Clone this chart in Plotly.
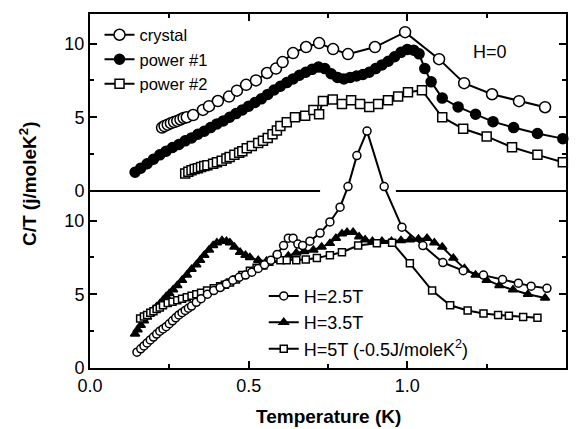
import plotly.graph_objects as go

# ---------------- data ----------------
# Top panel, H=0
crystal_T = [0.227, 0.235, 0.245, 0.255, 0.265, 0.275, 0.285, 0.295, 0.305, 0.325, 0.356, 0.375,
             0.403, 0.438, 0.463, 0.492, 0.523, 0.558, 0.586, 0.607, 0.64, 0.681, 0.722, 0.766,
             0.813, 0.898, 0.993, 1.10, 1.179, 1.267, 1.352, 1.434]
crystal_C = [4.3, 4.4, 4.5, 4.6, 4.68, 4.75, 4.85, 4.95, 5.0, 5.15, 5.5, 5.75,
             6.1, 6.4, 6.8, 7.2, 7.5, 8.0, 8.3, 8.74, 9.35, 9.76, 10.03, 9.62,
             9.28, 9.76, 10.77, 8.94, 7.31, 6.56, 6.09, 5.68]

power1_T = [0.142, 0.16, 0.18, 0.20, 0.22, 0.24, 0.26, 0.28, 0.30, 0.32, 0.34, 0.36, 0.38, 0.40,
            0.42, 0.44, 0.46, 0.48, 0.50, 0.52, 0.54, 0.56, 0.58, 0.60, 0.62, 0.64, 0.66, 0.68,
            0.70, 0.72, 0.74, 0.76, 0.78, 0.80, 0.82, 0.84, 0.86, 0.88, 0.90, 0.92, 0.94, 0.96,
            0.98, 1.00, 1.02, 1.037, 1.055, 1.075, 1.11, 1.16, 1.215, 1.27, 1.335, 1.41, 1.49]
power1_C = [1.27, 1.55, 1.85, 2.15, 2.45, 2.7, 2.95, 3.15, 3.4, 3.6, 3.85, 4.05, 4.3, 4.55,
            4.75, 5.0, 5.25, 5.5, 5.75, 6.0, 6.25, 6.55, 6.85, 7.1, 7.35, 7.6, 7.85, 8.05,
            8.25, 8.4, 8.3, 7.95, 7.7, 7.6, 7.7, 7.8, 7.9, 8.05, 8.3, 8.55, 8.8, 9.1,
            9.4, 9.6, 9.55, 9.3, 8.3, 7.4, 6.3, 5.7, 5.2, 4.7, 4.3, 3.9, 3.55]

power2_T = [0.30, 0.31, 0.32, 0.33, 0.34, 0.35, 0.36, 0.37, 0.388, 0.40, 0.415, 0.43, 0.44, 0.455,
            0.47, 0.48, 0.494, 0.51, 0.53, 0.545, 0.56, 0.575, 0.589, 0.60, 0.62, 0.646, 0.678,
            0.704, 0.722, 0.734, 0.765, 0.794, 0.823, 0.851, 0.88, 0.908, 0.939, 0.971, 1.002,
            1.046, 1.11, 1.176, 1.25, 1.33, 1.41, 1.49]
power2_C = [1.18, 1.3, 1.4, 1.5, 1.55, 1.62, 1.7, 1.75, 1.85, 1.95, 2.05, 2.2, 2.3, 2.45,
            2.6, 2.7, 2.9, 3.05, 3.25, 3.4, 3.6, 3.85, 4.1, 4.4, 4.66, 5.0, 5.1,
            5.5, 5.2, 6.1, 6.2, 5.9, 6.15, 5.9, 5.7, 5.9, 6.15, 6.4, 6.7,
            6.83, 5.0, 4.22, 3.7, 2.97, 2.45, 1.95]

# Bottom panel, in field
h25_T = [0.148, 0.16, 0.17, 0.18, 0.19, 0.20, 0.21, 0.22, 0.23, 0.24, 0.25, 0.26, 0.27, 0.28,
         0.29, 0.30, 0.31, 0.32, 0.335, 0.35, 0.37, 0.39, 0.41, 0.43, 0.45, 0.47, 0.49, 0.51,
         0.53, 0.55, 0.57, 0.59, 0.61, 0.625, 0.64, 0.655, 0.67, 0.693, 0.725, 0.756, 0.788,
         0.813, 0.841, 0.873, 0.927, 0.983, 1.049, 1.112, 1.176, 1.24, 1.30, 1.35, 1.39, 1.44]
h25_C = [1.07, 1.3, 1.5, 1.7, 1.9, 2.1, 2.3, 2.5, 2.65, 2.8, 3.0, 3.2, 3.4, 3.6,
         3.75, 3.9, 4.05, 4.2, 4.45, 4.7, 5.0, 5.25, 5.45, 5.7, 5.95, 6.15, 6.3, 6.5,
         6.75, 7.0, 7.3, 7.7, 8.3, 8.8, 8.8, 8.4, 8.3, 8.6, 9.15, 9.9, 10.9,
         12.3, 14.4, 16.06, 12.3, 9.55, 8.3, 7.15, 6.6, 6.3, 6.0, 5.75, 5.55, 5.4]

h35_T = [0.142, 0.15, 0.16, 0.17, 0.18, 0.19, 0.20, 0.21, 0.22, 0.23, 0.24, 0.25, 0.262, 0.275,
         0.29, 0.305, 0.32, 0.335, 0.347, 0.36, 0.375, 0.388, 0.40, 0.416, 0.43, 0.441, 0.455,
         0.473, 0.49, 0.504, 0.53, 0.557, 0.58, 0.60, 0.625, 0.65, 0.675, 0.704, 0.73, 0.756,
         0.775, 0.794, 0.81, 0.829, 0.848, 0.867, 0.89, 0.92, 0.95, 0.98, 1.008, 1.035, 1.062,
         1.085, 1.11, 1.145, 1.18, 1.215, 1.25, 1.29, 1.333, 1.38, 1.434]
h35_C = [2.3, 2.6, 2.9, 3.2, 3.45, 3.7, 3.95, 4.15, 4.35, 4.6, 4.85, 5.05, 5.3, 5.6,
         5.95, 6.3, 6.7, 7.0, 7.3, 7.65, 8.0, 8.3, 8.5, 8.65, 8.6, 8.5, 8.2,
         7.85, 7.65, 7.5, 7.3, 7.25, 7.3, 7.4, 7.6, 7.8, 7.9, 8.0, 8.2, 8.45,
         8.8, 9.1, 9.2, 9.2, 8.9, 8.7, 8.6, 8.6, 8.6, 8.65, 8.7, 8.75, 8.8,
         8.5, 8.2, 7.45, 6.75, 6.3, 5.95, 5.6, 5.3, 5.0, 4.75]

h5_T = [0.158, 0.17, 0.18, 0.19, 0.20, 0.21, 0.22, 0.23, 0.245, 0.26, 0.275, 0.29, 0.305, 0.32,
        0.335, 0.35, 0.369, 0.39, 0.41, 0.425, 0.441, 0.46, 0.48, 0.504, 0.525, 0.546, 0.565,
        0.589, 0.60, 0.62, 0.65, 0.68, 0.715, 0.756, 0.794, 0.845, 0.904, 0.952, 1.008, 1.078,
        1.135, 1.19, 1.24, 1.286, 1.32, 1.365, 1.41]
h5_C = [3.35, 3.5, 3.6, 3.75, 3.85, 4.0, 4.1, 4.25, 4.4, 4.5, 4.6, 4.7, 4.8, 4.9,
        5.0, 5.1, 5.25, 5.4, 5.55, 5.65, 5.8, 6.0, 6.3, 6.6, 6.8, 6.95, 7.2,
        7.5, 7.3, 7.3, 7.3, 7.35, 7.45, 7.65, 7.85, 8.3, 8.45, 8.5, 7.1, 5.25,
        4.25, 3.9, 3.7, 3.6, 3.55, 3.45, 3.4]

y_tick_labels = ["0", "5", "10", "0", "5", "10"]
x_tick_labels = ["0.0", "0.5", "1.0", "1.5"]

# ---------------- layout helpers ----------------
OFFSET = 12.0          # the top (H=0) panel sits on top of the bottom panel
FONT = "Liberation Sans, Arial, Helvetica, sans-serif"

fig = go.Figure()

def add(T, C, name, symbol, fill, size, legend, rank, shift=0.0, lw=2):
    fig.add_trace(go.Scatter(
        x=T, y=[c + shift for c in C], name=name, mode="lines+markers",
        line=dict(color="black", width=lw),
        marker=dict(symbol=symbol, size=size, color=fill,
                    line=dict(color="black", width=1.5)),
        legend=legend, legendrank=rank, cliponaxis=False))

# bottom panel
add(h35_T, h35_C, "H=3.5T", "triangle-up", "black", 8, "legend2", 2)
add(h5_T, h5_C, "H=5T (-0.5J/moleK<sup>2</sup>)", "square", "white", 7, "legend2", 3)
add(h25_T, h25_C, "H=2.5T", "circle", "white", 8, "legend2", 1)
# top panel
add(power1_T, power1_C, "power #1", "circle", "black", 10, "legend", 2, OFFSET)
add(power2_T, power2_C, "power #2", "square", "white", 9, "legend", 3, OFFSET)
add(crystal_T, crystal_C, "crystal", "circle", "white", 11, "legend", 1, OFFSET)

# divider between the two panels (broken where the 2.5T peak passes)
for x0, x1 in [(0.0, 0.725), (0.964, 1.5)]:
    fig.add_shape(type="line", xref="x", yref="y", x0=x0, x1=x1, y0=OFFSET, y1=OFFSET,
                  line=dict(color="black", width=2), layer="above")

fig.add_annotation(text="H=0", xref="x", yref="y", x=1.2, y=OFFSET + 9.45,
                   showarrow=False, xanchor="left", yanchor="middle",
                   font=dict(size=18, family=FONT, color="black"))
fig.add_annotation(text="<b>C/T (j/moleK<sup>2</sup>)</b>", xref="paper", yref="paper",
                   x=-0.13, y=0.52, xanchor="center", yanchor="middle",
                   textangle=-90, showarrow=False,
                   font=dict(size=19, family=FONT, color="black"))
fig.add_annotation(text="<b>Temperature (K)</b>", xref="paper", yref="paper",
                   x=0.5, y=-0.138, xanchor="center", yanchor="middle", showarrow=False,
                   font=dict(size=19, family=FONT, color="black"))

fig.update_layout(
    width=576, height=429,
    margin=dict(l=90, r=10, t=14, b=61, autoexpand=False),
    paper_bgcolor="white", plot_bgcolor="white",
    font=dict(family=FONT, size=18, color="black"),
    showlegend=True,
    legend=dict(x=0.02, y=0.99, xanchor="left", yanchor="top", bgcolor="rgba(0,0,0,0)",
                font=dict(size=16.5), tracegroupgap=0, itemsizing="trace"),
    legend2=dict(x=0.365, y=0.255, xanchor="left", yanchor="top", bgcolor="rgba(0,0,0,0)",
                 font=dict(size=18), tracegroupgap=0, itemsizing="trace"),
    xaxis=dict(range=[0, 1.5], tickvals=[0, 0.5, 1.0, 1.5], ticktext=x_tick_labels,
               ticks="inside", ticklen=7, tickwidth=2, tickcolor="black",
               minor=dict(tickvals=[0.25, 0.75, 1.25], ticks="inside", ticklen=4,
                          tickwidth=2, tickcolor="black"),
               showline=True, linewidth=2, linecolor="black", mirror="allticks",
               showgrid=False, zeroline=False, automargin=False,
               tickfont=dict(size=18)),
    yaxis=dict(range=[0, 24.0], tickvals=[0, 5, 10, OFFSET, OFFSET + 5, OFFSET + 10],
               ticktext=y_tick_labels,
               ticks="inside", ticklen=7, tickwidth=2, tickcolor="black",
               minor=dict(tickvals=[2.5, 7.5, OFFSET + 2.5, OFFSET + 7.5], ticks="inside",
                          ticklen=4, tickwidth=2, tickcolor="black"),
               showline=True, linewidth=2, linecolor="black", mirror="allticks",
               showgrid=False, zeroline=False, tickfont=dict(size=18), automargin=False,
               ticklabelstandoff=0),
)

fig.write_html("out.html")
